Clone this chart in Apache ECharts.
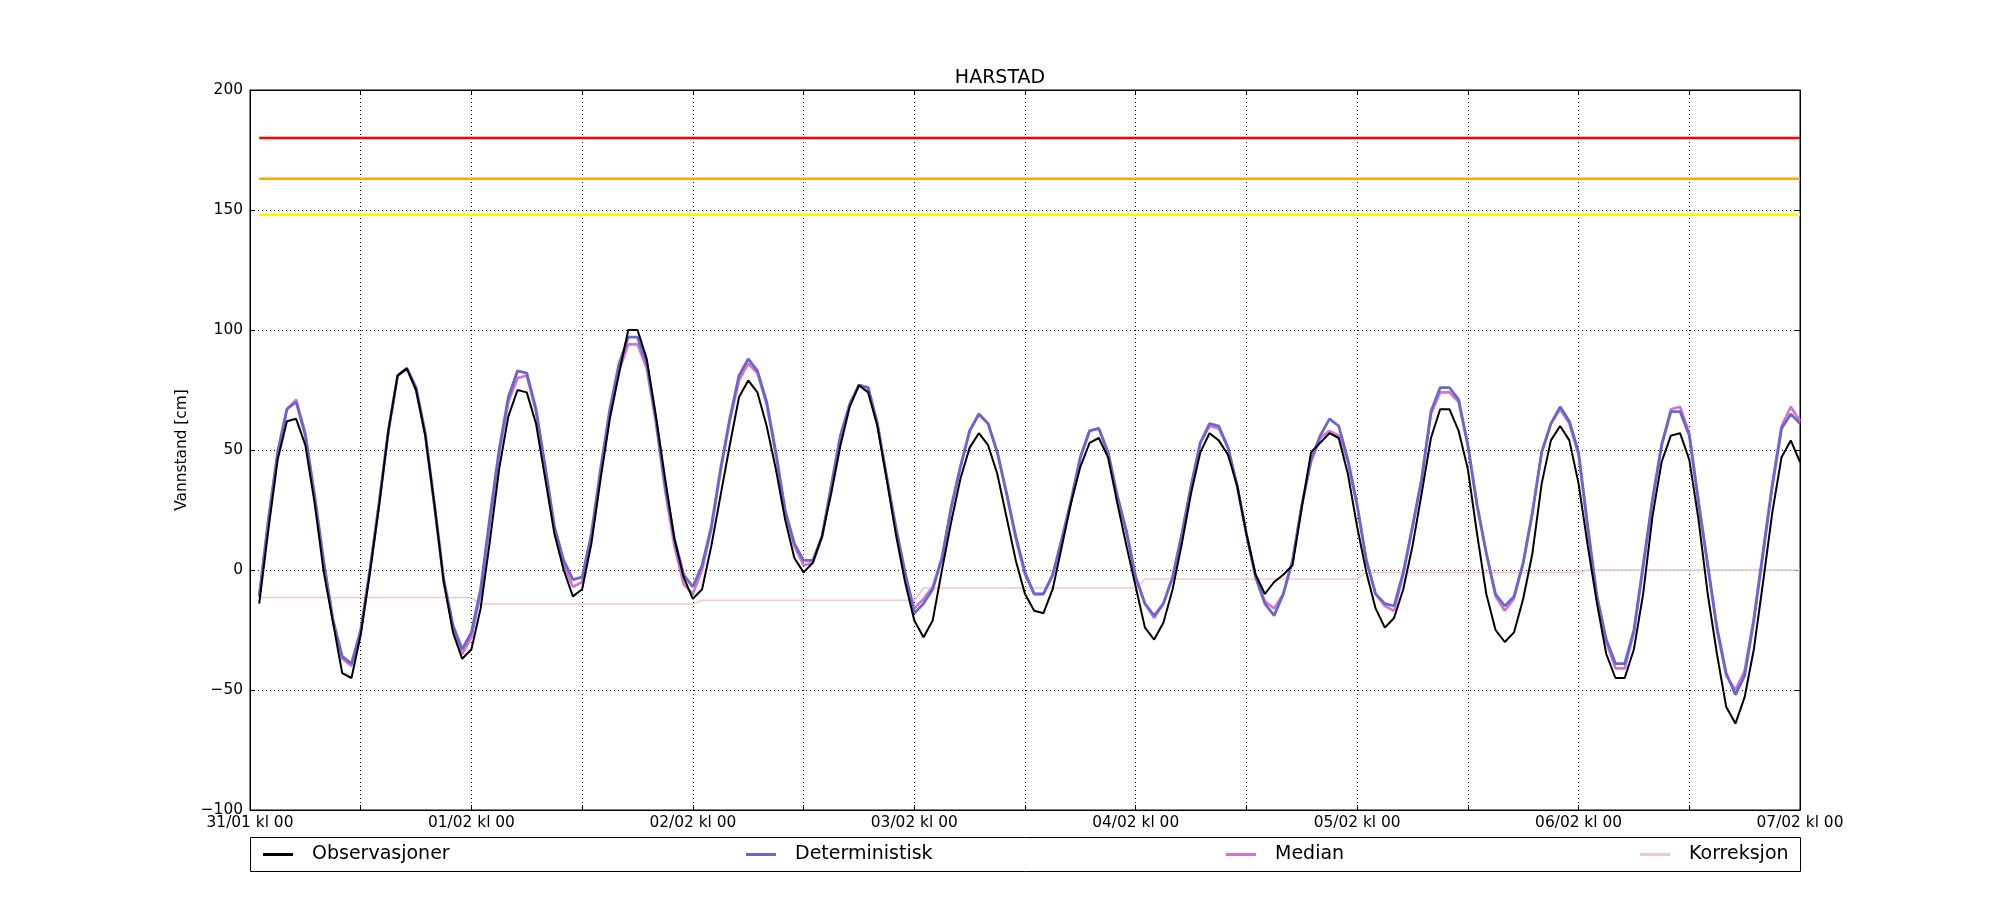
<!DOCTYPE html>
<html>
<head>
<meta charset="utf-8">
<script src="https://cdn.jsdelivr.net/npm/echarts@6/dist/echarts.min.js"></script>
<style>
html,body{margin:0;padding:0;background:#fff;}
#chart{width:2000px;height:900px;}
</style>
</head>
<body>
<div id="chart"></div>
<script>
// Tick labels (one per day, hours 0..168)
const dayLabels = ['31/01 kl 00','01/02 kl 00','02/02 kl 00','03/02 kl 00','04/02 kl 00','05/02 kl 00','06/02 kl 00','07/02 kl 00'];
// Hourly values, first value at 31/01 kl 01
const observasjoner = [
 -14,17,46,62,63,52,28,-1,-22,-43,-45,-27,-1,27,58,81,84,75,56,27,-5,-26,-37,-33,
 -16,12,42,64,75,74,61,38,15,0,-11,-8,11,38,63,82,100,100,88,64,38,13,-3,-12,
 -8,10,31,52,72,79,74,60,42,21,5,-1,3,14,32,52,68,77,74,60,38,15,-5,-21,
 -28,-21,0,20,38,51,57,52,40,22,4,-10,-17,-18,-8,10,28,43,53,55,47,28,10,-7,
 -24,-29,-22,-8,11,32,49,57,54,48,35,15,-2,-10,-5,-2,2,26,49,53,57,55,40,18,
 -1,-16,-24,-20,-8,10,32,55,67,67,58,42,15,-10,-25,-30,-26,-12,7,36,54,60,54,36,
 10,-14,-35,-45,-45,-33,-10,22,45,56,57,46,21,-10,-35,-57,-64,-53,-33,-5,24,47,54,45
];
const deterministisk = [
 -11,21,49,67,70,56,31,3,-21,-36,-39,-25,0,28,58,81,84,76,57,27,-4,-23,-33,-26,
 -8,22,50,72,83,82,67,43,18,4,-4,-3,15,42,67,86,97,97,86,63,35,13,-2,-7,
 2,18,42,63,81,88,83,70,49,25,11,4,4,14,35,56,69,77,76,61,39,18,-1,-18,
 -14,-8,5,26,43,58,65,61,49,32,14,-1,-10,-10,-2,13,29,47,58,59,49,31,16,-3,
 -14,-19,-14,-3,15,35,53,61,60,51,35,15,-3,-14,-19,-10,4,27,46,56,63,60,46,27,
 4,-10,-14,-15,-1,18,38,66,76,76,71,52,27,7,-10,-15,-11,3,24,49,61,68,62,49,
 18,-11,-29,-39,-39,-25,2,29,52,66,66,56,28,2,-24,-43,-52,-44,-21,7,35,59,65,61
];
const median = [
 -11,21,49,67,71,57,31,3,-21,-37,-40,-26,0,28,58,81,84,75,56,26,-5,-24,-35,-28,
 -10,20,48,70,80,81,66,42,17,2,-7,-5,13,40,65,83,94,94,84,61,33,10,-6,-10,
 0,17,41,62,79,86,82,69,48,24,10,2,3,14,35,56,69,77,76,61,39,17,-2,-16,
 -12,-7,5,26,43,58,65,61,49,32,13,-2,-10,-10,-2,13,29,47,58,59,49,31,16,-3,
 -14,-20,-14,-3,15,35,53,60,59,51,35,15,-3,-13,-16,-10,4,27,45,55,58,56,45,27,
 4,-10,-15,-17,-2,18,38,65,74,74,70,52,27,7,-11,-17,-12,3,24,49,61,67,61,48,
 17,-12,-30,-41,-41,-26,1,29,52,67,68,57,29,2,-25,-44,-50,-42,-20,8,36,60,68,62
];
const korreksjon = [
 -11.5,-11.5,-11.5,-11.5,-11.5,-11.5,-11.5,-11.5,-11.5,-11.5,-11.5,-11.5,-11.5,-11.5,-11.5,-11.5,-11.5,-11.5,-11.5,-11.5,-11.5,-11.5,-11.5,-11.5,
 -14.2,-14.2,-14.2,-14.2,-14.2,-14.2,-14.2,-14.2,-14.2,-14.2,-14.2,-14.2,-14.2,-14.2,-14.2,-14.2,-14.2,-14.2,-14.2,-14.2,-14.2,-14.2,-14.2,-14.2,
 -12.6,-12.6,-12.6,-12.6,-12.6,-12.6,-12.6,-12.6,-12.6,-12.6,-12.6,-12.6,-12.6,-12.6,-12.6,-12.6,-12.6,-12.6,-12.6,-12.6,-12.6,-12.6,-12.6,-12.6,
 -7.5,-7.5,-7.5,-7.5,-7.5,-7.5,-7.5,-7.5,-7.5,-7.5,-7.5,-7.5,-7.5,-7.5,-7.5,-7.5,-7.5,-7.5,-7.5,-7.5,-7.5,-7.5,-7.5,-7.5,
 -3.8,-3.8,-3.8,-3.8,-3.8,-3.8,-3.8,-3.8,-3.8,-3.8,-3.8,-3.8,-3.8,-3.8,-3.8,-3.8,-3.8,-3.8,-3.8,-3.8,-3.8,-3.8,-3.8,-3.8,
 -1,-1,-1,-1,-1,-1,-1,-1,-1,-1,-1,-1,-1,-1,-1,-1,-1,-1,-1,-1,-1,-1,-1,-1,
 0,0,0,0,0,0,0,0,0,0,0,0,0,0,0,0,0,0,0,0,0,0,0,0
];
// Warning levels (cm)
const levelRed = 180;
const levelOrange = 163;
const levelYellow = 148;

const FONT = "'DejaVu Sans', sans-serif";
const toXY = arr => arr.map((v, i) => [i + 1, v]);
const firstHour = 1, lastHour = observasjoner.length;
const levelLine = v => [[firstHour, v], [lastHour, v]];

const chart = echarts.init(document.getElementById('chart'), null, {renderer: 'canvas'});
const dotted = {color: '#000', width: 1, type: [1, 3]};

const legendBase = {
  top: 845, padding: 0, itemWidth: 30, itemHeight: 3, icon: 'rect',
  textStyle: {fontFamily: FONT, fontSize: 19, color: '#000', padding: [0, 0, 0, 14]},
  selectedMode: false
};

chart.setOption({
  animation: false,
  backgroundColor: '#fff',
  title: {
    text: 'HARSTAD', left: 'center', top: 64,
    textStyle: {fontFamily: FONT, fontSize: 19, fontWeight: 'normal', color: '#000'}
  },
  grid: {left: 250, right: 200, top: 90, bottom: 90, show: true, borderColor: '#000', borderWidth: 1},
  legend: [
    Object.assign({}, legendBase, {left: 263, data: ['Observasjoner']}),
    Object.assign({}, legendBase, {left: 746, data: ['Deterministisk']}),
    Object.assign({}, legendBase, {left: 1226, data: ['Median']}),
    Object.assign({}, legendBase, {left: 1640, data: ['Korreksjon']})
  ],
  graphic: [{
    type: 'rect', shape: {x: 250.5, y: 837.5, width: 1550, height: 34},
    style: {fill: 'none', stroke: '#000', lineWidth: 1}, z: 100
  }],
  xAxis: [{
    type: 'value', min: 0, max: 168, interval: 12,
    axisLine: {show: true, onZero: false, lineStyle: {color: '#000', width: 1}},
    axisTick: {show: true, inside: true, length: 5, lineStyle: {color: '#000'}},
    axisLabel: {
      margin: 5, color: '#000', fontFamily: FONT, fontSize: 15.4,
      showMinLabel: true, showMaxLabel: true,
      formatter: v => (v % 24 === 0 ? dayLabels[v / 24] : '')
    },
    splitLine: {show: true, lineStyle: dotted}
  }, {
    type: 'value', min: 0, max: 168, interval: 12, position: 'top',
    axisLine: {show: true, onZero: false, lineStyle: {color: '#000', width: 1}},
    axisTick: {show: true, inside: true, length: 5, lineStyle: {color: '#000'}},
    axisLabel: {show: false}, splitLine: {show: false}
  }],
  yAxis: [{
    type: 'value', min: -100, max: 200, interval: 50,
    name: 'Vannstand [cm]', nameLocation: 'middle', nameGap: 60,
    nameTextStyle: {fontFamily: FONT, fontSize: 15.4, color: '#000'},
    axisLine: {show: true, onZero: false, lineStyle: {color: '#000', width: 1}},
    axisTick: {show: true, inside: true, length: 5, lineStyle: {color: '#000'}},
    axisLabel: {margin: 7, color: '#000', fontFamily: FONT, fontSize: 15.4,
      formatter: v => (v < 0 ? '\u2212' + Math.abs(v) : String(v))},
    splitLine: {show: true, lineStyle: dotted}
  }, {
    type: 'value', min: -100, max: 200, interval: 50, position: 'right',
    axisLine: {show: true, onZero: false, lineStyle: {color: '#000', width: 1}},
    axisTick: {show: true, inside: true, length: 5, lineStyle: {color: '#000'}},
    axisLabel: {show: false}, splitLine: {show: false}
  }],
  series: [
    {name: 'Rød', type: 'line', data: levelLine(levelRed), symbol: 'none', lineStyle: {color: '#ff0000', width: 2.6}, itemStyle: {color: '#ff0000'}},
    {name: 'Oransje', type: 'line', data: levelLine(levelOrange), symbol: 'none', lineStyle: {color: '#ffa500', width: 2.6}, itemStyle: {color: '#ffa500'}},
    {name: 'Gul', type: 'line', data: levelLine(levelYellow), symbol: 'none', lineStyle: {color: '#ffff00', width: 2.6}, itemStyle: {color: '#ffff00'}},
    {name: 'Korreksjon', type: 'line', data: toXY(korreksjon), symbol: 'none', lineStyle: {color: '#f2c6c6', width: 1.5}, itemStyle: {color: '#f2c6c6'}},
    {name: 'Median', type: 'line', data: toXY(median), symbol: 'none', lineStyle: {color: '#d472d0', width: 2.6}, itemStyle: {color: '#d472d0'}},
    {name: 'Deterministisk', type: 'line', data: toXY(deterministisk), symbol: 'none', lineStyle: {color: '#6a66d0', width: 2.8}, itemStyle: {color: '#6a66d0'}},
    {name: 'Observasjoner', type: 'line', data: toXY(observasjoner), symbol: 'none', lineStyle: {color: '#000000', width: 2}, itemStyle: {color: '#000000'}}
  ]
});
</script>
</body>
</html>
